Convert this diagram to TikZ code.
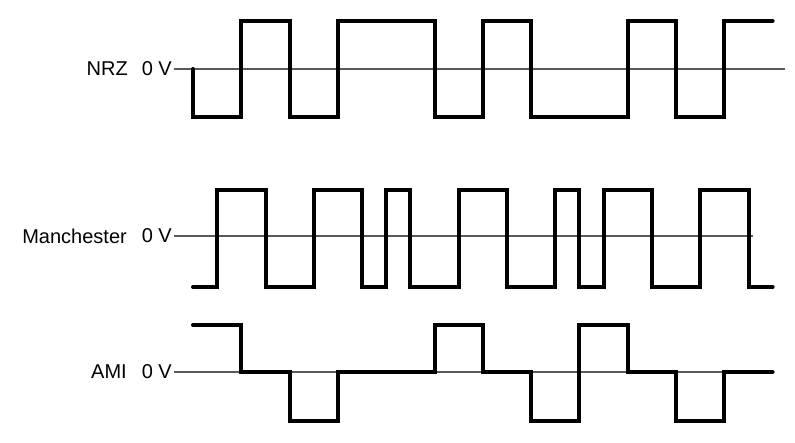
\documentclass[tikz,border=0pt]{standalone}
\usepackage{fontspec}
\setmainfont{Liberation Sans}
\begin{document}
\begin{tikzpicture}[x=1pt,y=-1pt,
  lbl/.style={anchor=east,inner sep=0pt,font=\fontsize{20}{23}\selectfont},
  axis/.style={draw=black!65,line width=1.1pt},
  wave/.style={draw=black,line width=4pt,line join=miter,line cap=round}]
\useasboundingbox (0,0) rectangle (795,443);
% labels
\node[lbl] (nrzname) at (128,69) {NRZ};
\node[lbl] (nrzzero) at (172,69) {0 V};
\node[lbl] (manname) at (127,236) {Manchester};
\node[lbl] (manzero) at (172,236) {0 V};
\node[lbl] (aminame) at (127,372) {AMI};
\node[lbl] (amizero) at (172,372) {0 V};
% zero lines
\coordinate (nrzend) at (785,69);
\coordinate (manend) at (753,236);
\coordinate (amiend) at (772,372);
\draw[axis] ([xshift=2pt]nrzzero.east) -- (nrzend);
\draw[axis] ([xshift=2pt]manzero.east) -- (manend);
\draw[axis] ([xshift=2pt]amizero.east) -- (amiend);
% NRZ
\draw[wave] (193,69) -- (193,117) -| (241.3,21) -| (289.6,117) -| (337.9,21) -| (434.5,117)
  -| (482.8,21) -| (531.1,117) -| (627.7,21) -| (676,117) -| (724.3,21) -- (772.6,21);
% Manchester
\draw[wave] (193,287) -| (217.2,190) -| (265.5,287) -| (313.8,190) -| (362,287) -| (386.2,190)
  -| (410.4,287) -| (458.7,190) -| (507,287) -| (555.3,190) -| (579.4,287) -| (603.6,190)
  -| (651.9,287) -| (700.2,190) -| (748.5,287) -- (772.6,287);
% AMI
\draw[wave] (193,325) -| (241.3,372) -| (289.6,421) -| (337.9,372) -| (434.5,325) -| (482.8,372)
  -| (531.1,421) -| (579.4,325) -| (627.7,372) -| (676,421) -| (724.3,372) -- (772.6,372);
\end{tikzpicture}
\end{document}
